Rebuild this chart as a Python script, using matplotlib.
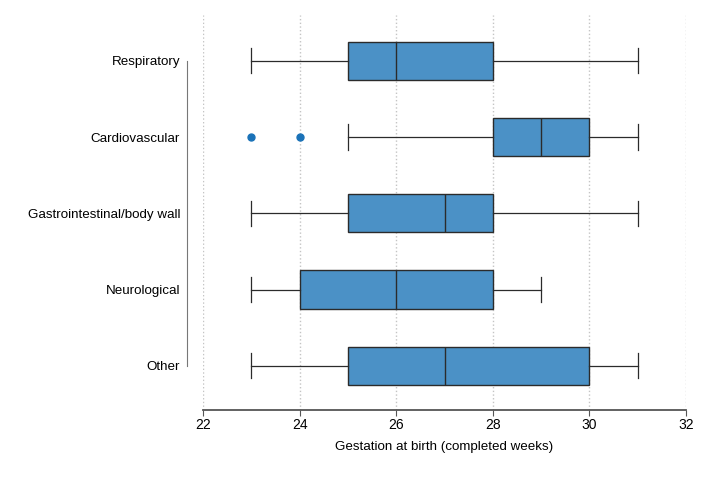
import matplotlib
matplotlib.use("Agg")
import matplotlib.pyplot as plt

plt.rcParams['font.family'] = ['Liberation Sans', 'DejaVu Sans']

categories = ["Respiratory", "Cardiovascular", "Gastrointestinal/body wall",
              "Neurological", "Other"]
whislo = [23, 25, 23, 23, 23]
q1 = [25, 28, 25, 24, 25]
med = [26, 29, 27, 26, 27]
q3 = [28, 30, 28, 28, 30]
whishi = [31, 31, 31, 29, 31]
fliers = [[], [23, 24], [], [], []]

stats = []
for i in range(len(categories)):
    stats.append(dict(label=categories[i], whislo=whislo[i], q1=q1[i],
                      med=med[i], q3=q3[i], whishi=whishi[i],
                      fliers=fliers[i]))

fig = plt.figure(figsize=(7.2, 4.8), dpi=100)
ax = fig.add_axes([203/720, 1-410/480, 483/720, 395/480])

pos = list(range(len(categories)))
ax.bxp(stats, positions=pos, vert=False, widths=0.5, patch_artist=True,
       showfliers=True,
       boxprops=dict(facecolor='#4b91c6', edgecolor='#2b2b2b', linewidth=1),
       medianprops=dict(color='#2b2b2b', linewidth=1),
       whiskerprops=dict(color='#2b2b2b', linewidth=0.9),
       capprops=dict(color='#2b2b2b', linewidth=0.9),
       capwidths=0.33,
       flierprops=dict(marker='o', markerfacecolor='#1a72b8',
                       markeredgecolor='#1a72b8', markersize=5))

ax.set_xlim(22, 32)
ax.set_ylim(4.58, -0.6)
ax.set_xticks(range(22, 33, 2))
ax.set_yticks(pos)
ax.set_yticklabels(categories)
ax.grid(axis='x', linestyle=':', color='#c4c4c4', linewidth=1)
ax.set_axisbelow(True)

for s in ['top', 'right']:
    ax.spines[s].set_visible(False)
ax.spines['left'].set_position(('outward', 11.5))
ax.spines['left'].set_bounds(0, 4)
ax.spines['left'].set_color('#777777')
ax.spines['bottom'].set_color('#555555')
ax.spines['bottom'].set_linewidth(1.3)
ax.tick_params(axis='y', length=0, pad=5, labelsize=9.6)
ax.tick_params(axis='x', length=4, pad=2, color='#555555', labelsize=10)
ax.set_xlabel("Gestation at birth (completed weeks)", fontsize=9.6, labelpad=6)

fig.savefig("out.png", dpi=100)
